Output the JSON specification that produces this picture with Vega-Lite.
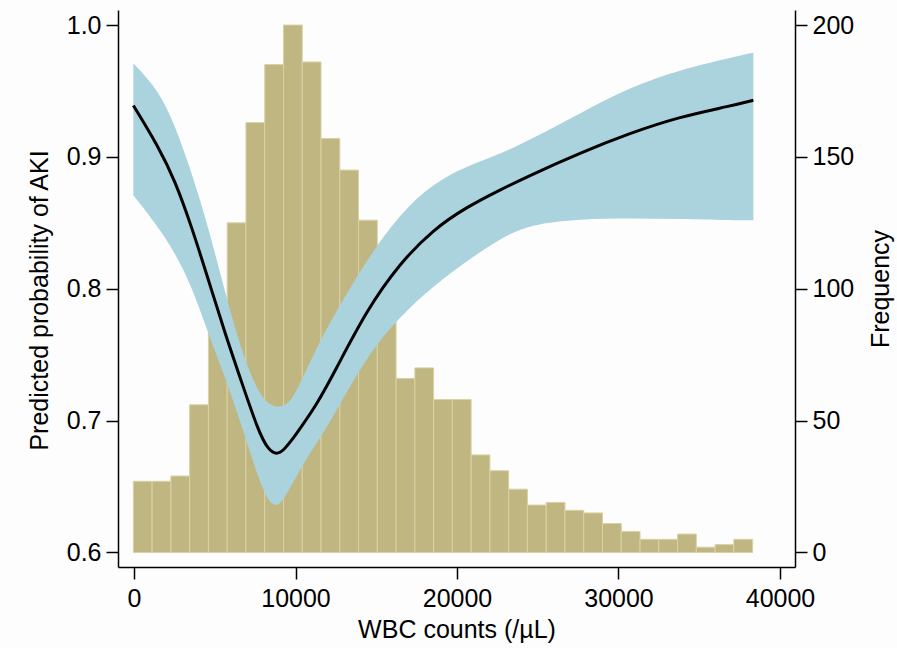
{
  "$schema": "https://vega.github.io/schema/vega-lite/v6.json",
  "width": 677,
  "height": 557,
  "autosize": {"type": "none"},
  "padding": {"left": 118, "top": 10, "right": 102, "bottom": 81},
  "background": "#fdfdfe",
  "config": {
    "view": {"stroke": null},
    "font": "Liberation Sans",
    "axis": {
      "grid": false,
      "domainColor": "#000000",
      "domainWidth": 1.5,
      "tickColor": "#000000",
      "tickWidth": 1.5,
      "tickSize": 12,
      "labelColor": "#000000",
      "titleColor": "#000000",
      "labelFont": "Liberation Sans",
      "titleFont": "Liberation Sans",
      "labelFontSize": 25,
      "titleFontSize": 25,
      "titleFontWeight": "normal",
      "labelPadding": 5
    }
  },
  "datasets": {
    "hist": [
      {"x": -40, "x_end": 1122, "count": 27},
      {"x": 1122, "x_end": 2284, "count": 27},
      {"x": 2284, "x_end": 3446, "count": 29},
      {"x": 3446, "x_end": 4608, "count": 56},
      {"x": 4608, "x_end": 5770, "count": 85},
      {"x": 5770, "x_end": 6932, "count": 125},
      {"x": 6932, "x_end": 8094, "count": 163},
      {"x": 8094, "x_end": 9256, "count": 185},
      {"x": 9256, "x_end": 10418, "count": 200},
      {"x": 10418, "x_end": 11580, "count": 186},
      {"x": 11580, "x_end": 12742, "count": 157},
      {"x": 12742, "x_end": 13904, "count": 145},
      {"x": 13904, "x_end": 15066, "count": 126},
      {"x": 15066, "x_end": 16228, "count": 95},
      {"x": 16228, "x_end": 17390, "count": 66},
      {"x": 17390, "x_end": 18552, "count": 70},
      {"x": 18552, "x_end": 19714, "count": 58},
      {"x": 19714, "x_end": 20876, "count": 58},
      {"x": 20876, "x_end": 22038, "count": 37},
      {"x": 22038, "x_end": 23200, "count": 31},
      {"x": 23200, "x_end": 24362, "count": 24},
      {"x": 24362, "x_end": 25524, "count": 18},
      {"x": 25524, "x_end": 26686, "count": 19},
      {"x": 26686, "x_end": 27848, "count": 16},
      {"x": 27848, "x_end": 29010, "count": 15},
      {"x": 29010, "x_end": 30172, "count": 11},
      {"x": 30172, "x_end": 31334, "count": 8},
      {"x": 31334, "x_end": 32496, "count": 5},
      {"x": 32496, "x_end": 33658, "count": 5},
      {"x": 33658, "x_end": 34820, "count": 7},
      {"x": 34820, "x_end": 35982, "count": 2},
      {"x": 35982, "x_end": 37144, "count": 3},
      {"x": 37144, "x_end": 38306, "count": 5}
    ],
    "fit": [
      {"x": -40, "est": 0.939, "lo": 0.871, "hi": 0.971},
      {"x": 1500, "est": 0.908, "lo": 0.847, "hi": 0.951},
      {"x": 2540, "est": 0.882, "lo": 0.827, "hi": 0.924},
      {"x": 3570, "est": 0.847, "lo": 0.802, "hi": 0.888},
      {"x": 4600, "est": 0.807, "lo": 0.766, "hi": 0.847},
      {"x": 5640, "est": 0.766, "lo": 0.733, "hi": 0.797},
      {"x": 6670, "est": 0.729, "lo": 0.696, "hi": 0.752},
      {"x": 7700, "est": 0.692, "lo": 0.656, "hi": 0.721},
      {"x": 8300, "est": 0.678, "lo": 0.639, "hi": 0.713},
      {"x": 8840, "est": 0.674, "lo": 0.634, "hi": 0.710},
      {"x": 9300, "est": 0.678, "lo": 0.641, "hi": 0.711},
      {"x": 9760, "est": 0.685, "lo": 0.651, "hi": 0.716},
      {"x": 10280, "est": 0.694, "lo": 0.663, "hi": 0.728},
      {"x": 11300, "est": 0.712, "lo": 0.683, "hi": 0.755},
      {"x": 12340, "est": 0.735, "lo": 0.703, "hi": 0.779},
      {"x": 14410, "est": 0.784, "lo": 0.749, "hi": 0.822},
      {"x": 16470, "est": 0.8195, "lo": 0.779, "hi": 0.857},
      {"x": 18530, "est": 0.845, "lo": 0.802, "hi": 0.880},
      {"x": 20600, "est": 0.862, "lo": 0.821, "hi": 0.893},
      {"x": 22660, "est": 0.875, "lo": 0.838, "hi": 0.902},
      {"x": 24520, "est": 0.886, "lo": 0.849, "hi": 0.913},
      {"x": 27620, "est": 0.903, "lo": 0.853, "hi": 0.933},
      {"x": 30710, "est": 0.918, "lo": 0.8535, "hi": 0.953},
      {"x": 33810, "est": 0.9305, "lo": 0.853, "hi": 0.966},
      {"x": 36900, "est": 0.9385, "lo": 0.852, "hi": 0.975},
      {"x": 38350, "est": 0.943, "lo": 0.852, "hi": 0.979}
    ]
  },
  "encoding": {
    "x": {
      "field": "x",
      "type": "quantitative",
      "scale": {"domain": [-991, 40929], "nice": false, "zero": false},
      "axis": {
        "title": "WBC counts (/µL)",
        "values": [0, 10000, 20000, 30000, 40000],
        "format": "d",
        "labelPadding": 7,
        "titlePadding": 6
      }
    }
  },
  "layer": [
    {
      "data": {"name": "hist"},
      "mark": {"type": "bar", "color": "#bfb681", "stroke": "#d9d2a5", "strokeWidth": 1},
      "encoding": {
        "x2": {"field": "x_end"},
        "y": {
          "field": "count",
          "type": "quantitative",
          "scale": {"domain": [-5.5, 205.7], "nice": false, "zero": false},
          "axis": {
            "orient": "right",
            "title": "Frequency",
            "values": [0, 50, 100, 150, 200],
            "titleAngle": -90,
            "titlePadding": 40
          }
        },
        "y2": {"datum": 0}
      }
    },
    {
      "layer": [
        {
          "data": {"name": "fit"},
          "mark": {"type": "area", "color": "#aad3de", "opacity": 1, "interpolate": "basis"},
          "encoding": {
            "y": {
              "field": "lo",
              "type": "quantitative",
              "scale": {"domain": [0.589, 1.0114], "nice": false, "zero": false},
              "axis": {
                "orient": "left",
                "title": "Predicted probability of AKI",
                "values": [0.6, 0.7, 0.8, 0.9, 1.0],
                "format": ".1f",
                "titlePadding": 14,
                "titleY": 290
              }
            },
            "y2": {"field": "hi"}
          }
        },
        {
          "data": {"name": "fit"},
          "mark": {"type": "line", "color": "#000000", "strokeWidth": 3, "interpolate": "basis"},
          "encoding": {
            "y": {"field": "est", "type": "quantitative"}
          }
        }
      ]
    }
  ],
  "resolve": {"scale": {"y": "independent"}}
}
